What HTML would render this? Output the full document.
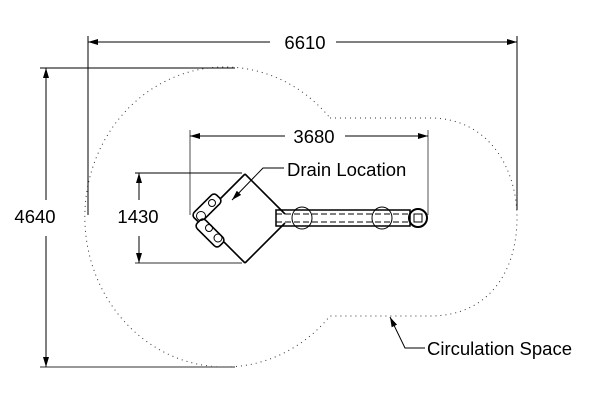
<!DOCTYPE html>
<html><head><style>body{margin:0;background:#fff}svg{display:block}</style></head>
<body>
<svg width="600" height="400" viewBox="0 0 600 400" xmlns="http://www.w3.org/2000/svg" font-family="Liberation Sans, sans-serif">
<defs>
<marker id="a" markerWidth="10" markerHeight="6" refX="10" refY="3" orient="auto" markerUnits="userSpaceOnUse"><path d="M0,0 L10,3 L0,6 Z" fill="#000"/></marker>
</defs>
<g stroke="#000" stroke-width="1" fill="none">
<!-- circulation -->
<path d="M330,118 L430,118 C490,118 517,170 517,218 C517,270 490,316 430,316 L330,316 A140 150 0 1 1 330,118 Z" stroke-dasharray="1 4" stroke="#333"/>
<!-- 6610 -->
<line x1="88" y1="36" x2="88" y2="215"/>
<line x1="517" y1="36" x2="517" y2="210"/>
<line x1="270" y1="42" x2="88" y2="42" marker-end="url(#a)"/>
<line x1="336" y1="42" x2="517" y2="42" marker-end="url(#a)"/>
<!-- 4640 -->
<line x1="40" y1="68" x2="235" y2="68"/>
<line x1="40" y1="367" x2="235" y2="367" stroke="#777" stroke-width="1.5"/>
<line x1="46" y1="200" x2="46" y2="68" marker-end="url(#a)"/>
<line x1="46" y1="236" x2="46" y2="367" marker-end="url(#a)"/>
<!-- 3680 -->
<line x1="190" y1="130" x2="190" y2="215" stroke="#777" stroke-width="1.3"/>
<line x1="428" y1="130" x2="428" y2="215" stroke="#555"/>
<line x1="285" y1="136" x2="190" y2="136" marker-end="url(#a)"/>
<line x1="345" y1="136" x2="428" y2="136" marker-end="url(#a)"/>
<!-- 1430 -->
<line x1="135" y1="173" x2="242" y2="173"/>
<line x1="135" y1="263" x2="242" y2="263" stroke="#777" stroke-width="1.5"/>
<line x1="139" y1="200" x2="139" y2="173" marker-end="url(#a)"/>
<line x1="139" y1="236" x2="139" y2="263" marker-end="url(#a)"/>
<!-- diamond -->
<path d="M245,174 L285,214 M245,263 L285,223 M245,174 L200,219 M245,263 L200,218" stroke-width="1.6"/>
<!-- seats -->
<g stroke-width="1.6" fill="#fff">
<rect x="-16" y="-6" width="32" height="12" rx="4" transform="translate(207,208) rotate(-45)"/>
<rect x="-16" y="-6" width="32" height="12" rx="4" transform="translate(210,233) rotate(45)"/>
</g>
<circle cx="201" cy="216" r="4.5"/><circle cx="212" cy="203" r="3.5"/><circle cx="209" cy="228" r="3.5"/><circle cx="218" cy="238" r="4"/>
<!-- arm -->
<rect x="276" y="210" width="134" height="16" stroke-width="1.5"/>
<line x1="276" y1="214" x2="410" y2="214" stroke-dasharray="6 3"/>
<line x1="276" y1="222" x2="410" y2="222" stroke-dasharray="6 3"/>
<ellipse cx="302" cy="218" rx="10" ry="11"/><ellipse cx="382" cy="218" rx="10" ry="11"/>
<circle cx="418" cy="218" r="9" stroke-width="2"/>
<rect x="414" y="214" width="8" height="8"/>
<!-- drain leader -->
<polyline points="284,168 263,168 232,200" marker-end="url(#a)"/>
<!-- circulation leader -->
<polyline points="425,348 405,348 390,317" marker-end="url(#a)"/>
</g>
<g font-size="18.5" fill="#000">
<text x="305" y="49" text-anchor="middle">6610</text>
<text x="35" y="223" text-anchor="middle">4640</text>
<text x="314" y="143" text-anchor="middle">3680</text>
<text x="138" y="223" text-anchor="middle">1430</text>
<text x="287" y="176">Drain Location</text>
<text x="427" y="355">Circulation Space</text>
</g>
</svg>
</body></html>
